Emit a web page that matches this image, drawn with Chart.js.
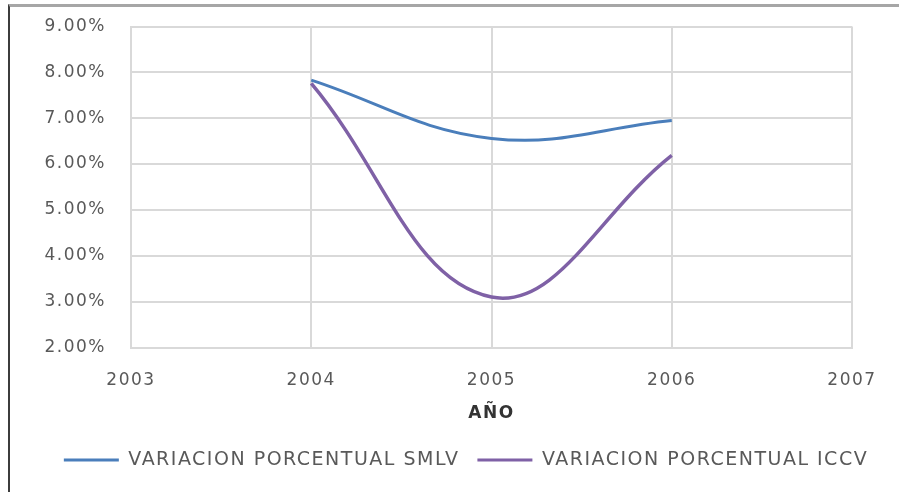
<!DOCTYPE html>
<html>
<head>
<meta charset="utf-8">
<script src="https://cdn.jsdelivr.net/npm/chart.js@4"></script>
<style>
  body { margin: 0; background: #fff; }
  #frame {
    position: absolute; left: 8px; top: 4px;
    width: 891px; height: 488px; box-sizing: border-box;
    border-left: 2px solid #3c3c3c; border-top: 3px solid #a6a6a6;
    background: #fff;
  }
  canvas { display: block; }
</style>
</head>
<body>
<div id="frame"><canvas id="chart" width="889" height="485"></canvas></div>
<script>
const years  = [2004, 2005, 2006];
const smlv   = [7.83, 6.56, 6.95];
const iccv   = [7.76, 3.10, 6.19];
const xTicks = [2003, 2004, 2005, 2006, 2007];
const yTicks = [2, 3, 4, 5, 6, 7, 8, 9];
const seriesNames = ['VARIACION PORCENTUAL SMLV', 'VARIACION PORCENTUAL ICCV'];

const FONT = "'DejaVu Sans'";
const GRID = '#d9d9d9';

// the reference text is wide, so space the letters out a little
const spacing = {
  id: 'spacing',
  beforeUpdate(chart) { chart.ctx.letterSpacing = '1.5px'; },
  beforeDraw(chart)   { chart.ctx.letterSpacing = '1.5px'; }
};

const toPoints = vals => years.map((x, i) => ({ x, y: vals[i] }));

new Chart(document.getElementById('chart'), {
  type: 'line',
  data: {
    datasets: [
      { label: seriesNames[0], data: toPoints(smlv), borderColor: '#4a7ebb', backgroundColor: '#4a7ebb', borderWidth: 3 },
      { label: seriesNames[1], data: toPoints(iccv), borderColor: '#7f61a6', backgroundColor: '#7f61a6', borderWidth: 3.5 }
    ]
  },
  plugins: [spacing],
  options: {
    responsive: false,
    animation: false,
    layout: { padding: { left: 27, right: 4, top: 19.5, bottom: 12.5 } },
    elements: {
      line: { tension: 0.4, fill: false },
      point: { radius: 0, hoverRadius: 0 }
    },
    plugins: {
      tooltip: { enabled: false },
      legend: {
        position: 'bottom',
        labels: {
          color: '#595959',
          font: { size: 19, family: FONT },
          boxWidth: 55,
          boxHeight: 3,
          padding: 18,
          generateLabels: chart => Chart.defaults.plugins.legend.labels.generateLabels(chart)
            .map(l => ({ ...l, lineWidth: 0, fillStyle: l.strokeStyle }))
        }
      }
    },
    scales: {
      x: {
        type: 'linear',
        min: 2003,
        max: 2007,
        afterBuildTicks: s => { s.ticks = xTicks.map(v => ({ value: v })); },
        afterFit: s => { s.height = 85; s.paddingRight = 47; },
        ticks: { color: '#595959', font: { size: 17, family: FONT }, padding: 23, callback: v => String(v) },
        grid: { color: GRID, lineWidth: 2, drawTicks: false },
        border: { color: GRID, width: 2 },
        title: { display: true, text: 'AÑO', color: '#333', font: { size: 17, weight: 'bold', family: FONT }, padding: { top: 4, bottom: 9 } }
      },
      y: {
        min: 2,
        max: 9,
        afterBuildTicks: s => { s.ticks = yTicks.map(v => ({ value: v })); },
        afterFit: s => { s.width = 94; s.paddingTop = 0; s.paddingBottom = 0; },
        ticks: { color: '#595959', font: { size: 17, family: FONT }, padding: 25, callback: v => v.toFixed(2) + '%' },
        grid: { color: GRID, lineWidth: 2, drawTicks: false },
        border: { color: GRID, width: 2 }
      }
    }
  }
});
</script>
</body>
</html>
